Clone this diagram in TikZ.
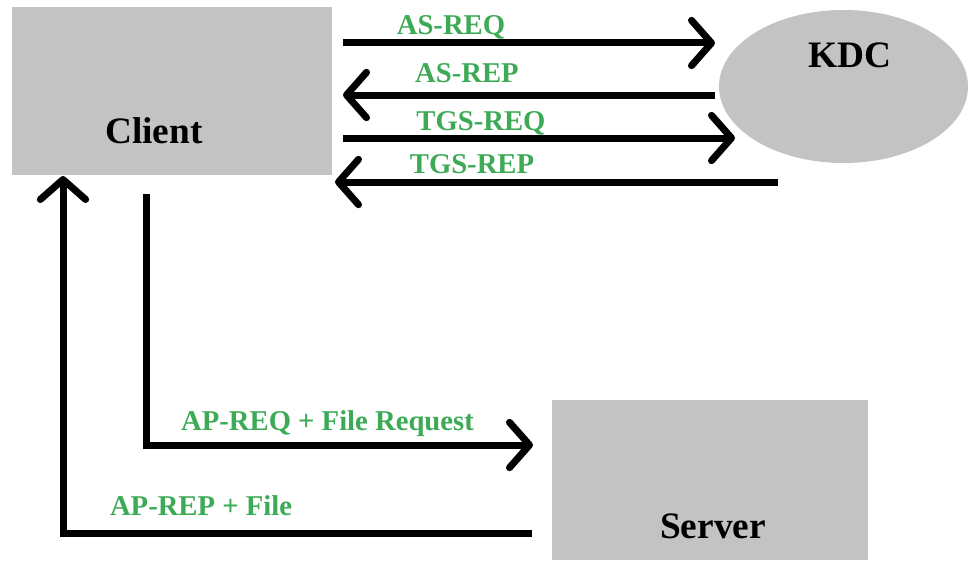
\documentclass[tikz,border=0pt]{standalone}
\usepackage{fontspec}
\setmainfont{Liberation Serif}
\usetikzlibrary{arrows.meta,shapes.geometric}
\definecolor{boxgray}{RGB}{195,195,195}
\definecolor{msggreen}{RGB}{61,170,86}
\begin{document}
\begin{tikzpicture}[x=0.75pt,y=-0.75pt,
    party/.style={fill=boxgray,inner sep=0pt},
    partytxt/.style={anchor=base,font=\fontsize{28}{30}\selectfont\bfseries},
    lbl/.style={anchor=base,text=msggreen,font=\fontsize{21.5}{24}\selectfont\bfseries},
    msg/.style={line width=5.25pt,-{Straight Barb[length=15pt,width=34pt,round]}}]
  \useasboundingbox (0,0) rectangle (969,560);

  % the three parties
  \node[party,minimum width=240pt,minimum height=126pt] (client) at (172,91) {};
  \node[party,ellipse,minimum width=186.75pt,minimum height=114.75pt] (kdc) at (843.5,86.5) {};
  \node[party,minimum width=237pt,minimum height=120pt] (server) at (710,480) {};
  \node[partytxt] (clienttxt) at (154,143) {Client};
  \node[partytxt] (kdctxt) at (850,67) {KDC};
  \node[partytxt] (servertxt) at (713,538) {Server};

  % client <-> KDC
  \foreach \ya/\xa/\xb/\lx/\ly/\txt [count=\i] in {43/343/715/451/35/AS-REQ,
      95/715/343/467/82/AS-REP, 138/343/735/481/130/TGS-REQ, 182/778/335/472/173/TGS-REP} {
    \coordinate (m\i a) at (\xa,\ya);
    \coordinate (m\i b) at (\xb,\ya);
    \draw[msg] (m\i a) -- (m\i b);
    \node[lbl] (l\i) at (\lx,\ly) {\txt};
  }

  % client <-> server
  \coordinate (apreqa) at (146,194);
  \coordinate (apreqb) at (533,445);
  \draw[msg] (apreqa) |- (apreqb);
  \node[lbl] (apreq) at (327.5,430) {AP-REQ + File Request};

  \coordinate (aprepa) at (532,533);
  \coordinate (aprepb) at (63,176);
  \draw[msg] (aprepa) -| (aprepb);
  \node[lbl] (aprep) at (201,515) {AP-REP + File};
\end{tikzpicture}
\end{document}
